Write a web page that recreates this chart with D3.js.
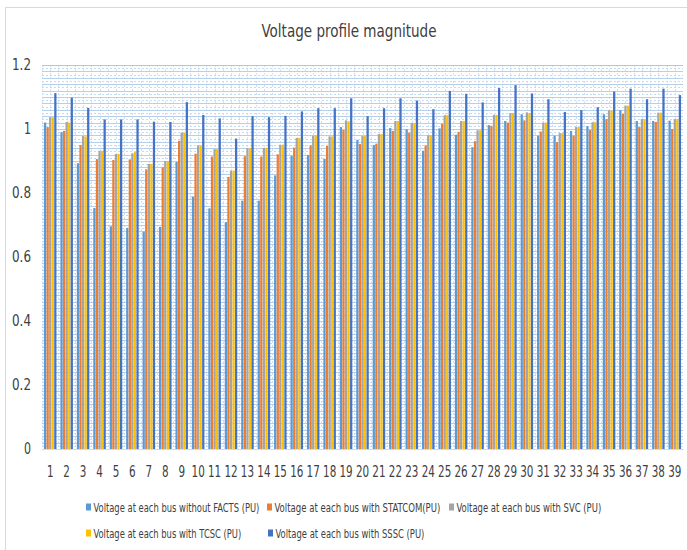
<!DOCTYPE html>
<html>
<head>
<meta charset="utf-8">
<script src="https://cdn.jsdelivr.net/npm/d3@7"></script>
<style>
  body { margin: 0; background: #fff; }
  text { font-family: "DejaVu Sans Condensed", "Liberation Sans", sans-serif; }
</style>
</head>
<body>
<div id="chart-area"></div>
<script>
// bus numbers
var buses = d3.range(1, 40).map(String);

var seriesNames = [
  "Voltage at each bus without FACTS (PU)",
  "Voltage at each bus with STATCOM(PU)",
  "Voltage at each bus with SVC (PU)",
  "Voltage at each bus with TCSC (PU)",
  "Voltage at each bus with SSSC (PU)"
];

var noFacts = [1.02, 0.99, 0.893, 0.753, 0.696, 0.691, 0.679, 0.694, 0.897, 0.789,
  0.752, 0.709, 0.776, 0.776, 0.855, 0.916, 0.919, 0.907, 1.006, 0.966,
  0.95, 1.003, 0.999, 0.932, 1.002, 0.982, 0.943, 1.012, 1.025, 1.046,
  0.979, 0.979, 0.994, 1.009, 1.046, 1.059, 1.025, 1.025, 1.026];

var statcom = [1.006, 0.994, 0.95, 0.906, 0.903, 0.905, 0.874, 0.88, 0.963, 0.923,
  0.914, 0.85, 0.915, 0.914, 0.921, 0.942, 0.949, 0.947, 0.997, 0.953,
  0.954, 0.994, 0.989, 0.949, 1.016, 0.991, 0.962, 1.01, 1.02, 1.027,
  0.992, 0.959, 0.979, 0.997, 1.031, 1.047, 1.006, 1.022, 1.0];

var svc = [1.037, 1.022, 0.978, 0.932, 0.922, 0.924, 0.891, 0.9, 0.989, 0.949,
  0.937, 0.87, 0.94, 0.941, 0.951, 0.972, 0.979, 0.977, 1.027, 0.978,
  0.984, 1.025, 1.019, 0.98, 1.043, 1.025, 0.996, 1.044, 1.05, 1.052,
  1.02, 0.987, 1.006, 1.021, 1.058, 1.073, 1.031, 1.051, 1.031];

var tcsc = [1.037, 1.02, 0.977, 0.932, 0.922, 0.928, 0.891, 0.9, 0.989, 0.949,
  0.937, 0.87, 0.94, 0.941, 0.951, 0.972, 0.979, 0.977, 1.024, 0.978,
  0.984, 1.025, 1.019, 0.98, 1.043, 1.025, 0.996, 1.044, 1.05, 1.05,
  1.02, 0.987, 1.006, 1.021, 1.058, 1.073, 1.031, 1.051, 1.031];

var sssc = [1.112, 1.098, 1.066, 1.03, 1.03, 1.03, 1.023, 1.022, 1.084, 1.044,
  1.033, 0.97, 1.04, 1.037, 1.041, 1.055, 1.065, 1.065, 1.096, 1.04,
  1.065, 1.096, 1.089, 1.062, 1.119, 1.11, 1.083, 1.128, 1.137, 1.111,
  1.093, 1.053, 1.059, 1.068, 1.117, 1.126, 1.093, 1.126, 1.106];

var yTicks = [0, 0.2, 0.4, 0.6, 0.8, 1, 1.2];

var colors = ["#5B9BD5", "#ED7D31", "#A5A5A5", "#FFC000", "#4472C4"];
var allSeries = [noFacts, statcom, svc, tcsc, sssc];

// squeeze text to a given width (narrow Calibri look)
function fit(sel, w) {
  sel.attr("textLength", w).attr("lengthAdjust", "spacingAndGlyphs");
}

var W = 687, H = 550;
var svg = d3.select("#chart-area").append("svg")
  .attr("width", W)
  .attr("height", H);

// chart frame
svg.append("rect")
  .attr("x", 5.5).attr("y", 7.5)
  .attr("width", 700).attr("height", 600)
  .attr("fill", "#fff")
  .attr("stroke", "#d9d9d9");

var x0 = d3.scaleBand().domain(buses).range([42, 683]).paddingInner(0.2).paddingOuter(0.1);
var x1 = d3.scaleBand().domain(d3.range(5)).range([0, x0.bandwidth()]).padding(0.12);
var y = d3.scaleLinear().domain([0, 1.2]).range([449, 65]);

// gridlines
var grid = svg.append("g");
grid.selectAll(".minor")
  .data(d3.range(0.01, 1.2, 0.02))
  .enter().append("line")
  .attr("x1", 42).attr("x2", 683)
  .attr("y1", d => Math.round(y(d)) + 0.5).attr("y2", d => Math.round(y(d)) + 0.5)
  .attr("stroke", "#c4daf1")
  .attr("stroke-dasharray", "2,2");
grid.selectAll(".vminor")
  .data(buses)
  .enter().append("line")
  .attr("x1", d => Math.round(x0(d) - x0.step() * x0.paddingInner() / 2) + 0.5)
  .attr("x2", d => Math.round(x0(d) - x0.step() * x0.paddingInner() / 2) + 0.5)
  .attr("y1", 65).attr("y2", 449)
  .attr("stroke", "#cfe0f3")
  .attr("stroke-dasharray", "2,2");
grid.selectAll(".vminor2")
  .data(buses)
  .enter().append("line")
  .attr("x1", d => Math.round(x0(d) + x0.bandwidth() / 2) + 0.5)
  .attr("x2", d => Math.round(x0(d) + x0.bandwidth() / 2) + 0.5)
  .attr("y1", 65).attr("y2", 449)
  .attr("stroke", "#cfe0f3")
  .attr("stroke-dasharray", "2,2");
grid.selectAll(".major")
  .data(d3.range(0, 1.2001, 0.02))
  .enter().append("line")
  .attr("x1", 42).attr("x2", 683)
  .attr("y1", d => Math.round(y(d)) + 0.5).attr("y2", d => Math.round(y(d)) + 0.5)
  .attr("stroke", "#b5d0ec")
  .attr("stroke-width", 1);
grid.append("line")
  .attr("x1", 42).attr("x2", 683)
  .attr("y1", y(1.2) + 0.5).attr("y2", y(1.2) + 0.5)
  .attr("stroke", "#a9c8e8");

// bars
var groups = svg.append("g").selectAll("g")
  .data(buses)
  .enter().append("g")
  .attr("transform", d => "translate(" + x0(d) + ",0)");

groups.selectAll("rect")
  .data((d, i) => allSeries.map((s, k) => ({ k: k, v: s[i] })))
  .enter().append("rect")
  .attr("x", d => x1(d.k))
  .attr("width", x1.bandwidth())
  .attr("y", d => y(d.v))
  .attr("height", d => y(0) - y(d.v))
  .attr("fill", d => colors[d.k]);

// axes
var xAxis = svg.append("g")
  .attr("transform", "translate(0,449)")
  .call(d3.axisBottom(x0).tickSize(0).tickPadding(17));
xAxis.select(".domain").attr("stroke", "#d9d9d9");
xAxis.selectAll("text")
  .attr("fill", "#404040")
  .style("font-size", "15px")
  .each(function (d) { fit(d3.select(this), d.length * 6.6); });

var yAxis = svg.append("g")
  .attr("transform", "translate(31,0)")
  .call(d3.axisLeft(y).tickValues(yTicks).tickSize(0).tickPadding(0).tickFormat(d3.format(".1~f")));
yAxis.select(".domain").remove();
yAxis.selectAll("text")
  .attr("fill", "#404040")
  .style("font-size", "15px")
  .each(function () { var t = d3.select(this).text(); fit(d3.select(this), t.length > 1 ? 19 : 7); });

// title
svg.append("text")
  .attr("x", 349).attr("y", 37)
  .attr("text-anchor", "middle")
  .attr("fill", "#404040")
  .style("font-size", "18px")
  .call(fit, 175)
  .text("Voltage profile magnitude");

// legend
var legendPos = [[86, 507], [267, 507], [449, 507], [86, 533], [268, 533]];
var legendW = [166, 166, 145, 148, 149];
var legend = svg.append("g").selectAll("g")
  .data(seriesNames)
  .enter().append("g")
  .attr("transform", (d, i) => "translate(" + legendPos[i][0] + "," + legendPos[i][1] + ")");
legend.append("rect")
  .attr("x", 0).attr("y", -3.5)
  .attr("width", 5).attr("height", 7)
  .attr("fill", (d, i) => colors[i]);
// narrow the legend text with a horizontal scale so its box matches the drawn width
legend.append("text")
  .attr("fill", "#404040")
  .style("font-size", "12px")
  .text(d => d)
  .each(function (d, i) {
    var natural = this.getComputedTextLength();
    var sx = legendW[i] / natural;
    d3.select(this).attr("transform", "translate(7.5,4.5) scale(" + sx + ",1)");
  });
</script>
</body>
</html>
